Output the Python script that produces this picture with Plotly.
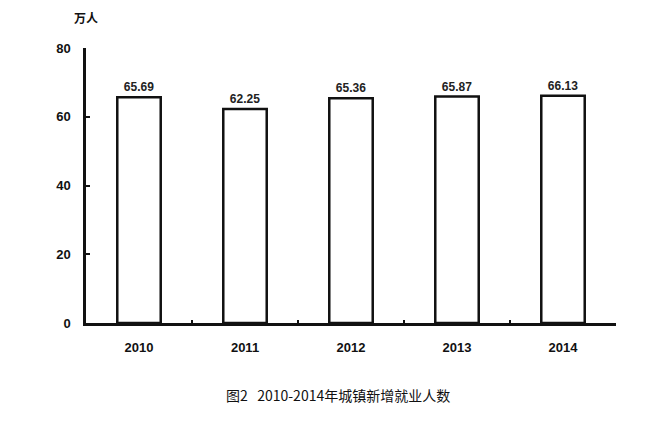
import plotly.graph_objects as go

years = ["2010", "2011", "2012", "2013", "2014"]
values = [65.69, 62.25, 65.36, 65.87, 66.13]
value_labels = ["65.69", "62.25", "65.36", "65.87", "66.13"]
y_ticks = [0, 20, 40, 60, 80]

num_font = "Liberation Sans, Arial, sans-serif"
cjk_font = "Noto Sans CJK SC, sans-serif"

fig = go.Figure(
    go.Bar(
        x=years,
        y=values,
        text=value_labels,
        textposition="outside",
        textfont=dict(family=num_font, size=12, color="#222222", weight="bold"),
        marker=dict(color="white", line=dict(color="#111111", width=2.5)),
        width=0.41,
        cliponaxis=False,
    )
)

fig.update_layout(
    width=655,
    height=423,
    margin=dict(l=78, r=47, t=40, b=108),
    paper_bgcolor="white",
    plot_bgcolor="white",
    showlegend=False,
    xaxis=dict(
        type="category",
        showline=True,
        linecolor="#111111",
        linewidth=2.5,
        ticks="inside",
        tickson="boundaries",
        ticklen=3,
        tickwidth=1.5,
        tickcolor="#111111",
        showgrid=False,
        ticklabelstandoff=11,
        tickfont=dict(family=num_font, size=13, color="#111111", weight="bold"),
    ),
    yaxis=dict(
        range=[0, 80],
        tickvals=y_ticks,
        showline=True,
        linecolor="#111111",
        linewidth=2.5,
        ticks="inside",
        ticklen=4,
        tickwidth=1.5,
        tickcolor="#111111",
        showgrid=False,
        zeroline=False,
        ticklabelstandoff=10,
        tickfont=dict(family=num_font, size=13, color="#111111", weight="bold"),
    ),
    annotations=[
        dict(
            text="万人",
            xref="paper", yref="paper",
            x=0.0, y=1.0,
            yshift=20,
            xanchor="center", yanchor="bottom",
            showarrow=False,
            font=dict(family=cjk_font, size=12, color="#111111", weight="bold"),
        ),
        dict(
            text="图2&nbsp;&nbsp;&nbsp;2010-2014年城镇新增就业人数",
            xref="paper", yref="paper",
            x=0.475, y=0,
            yshift=-60,
            xanchor="center", yanchor="top",
            showarrow=False,
            font=dict(family=cjk_font, size=14, color="#111111"),
        ),
    ],
)

fig.write_html("out.html")
